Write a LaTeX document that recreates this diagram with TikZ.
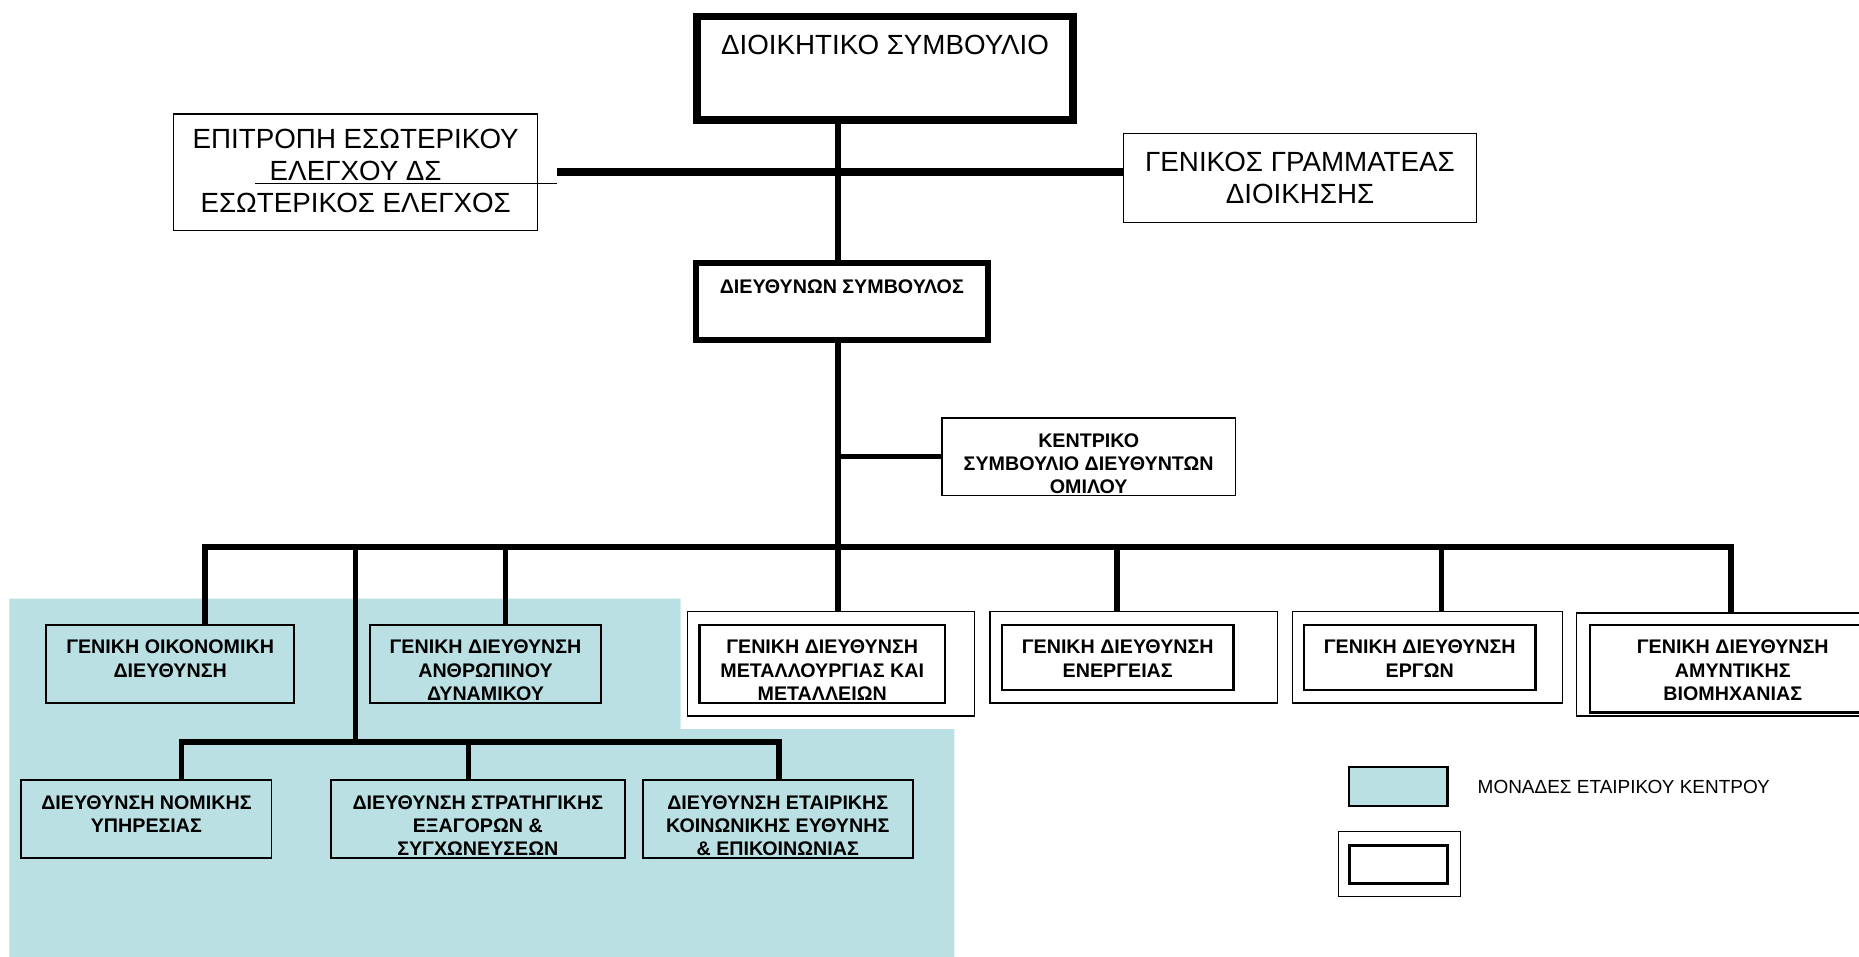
\documentclass[tikz,border=0pt]{standalone}
\usepackage{fontspec}
\setmainfont{Liberation Sans}
\usetikzlibrary{fit,calc}
\definecolor{unitblue}{RGB}{186,224,227}
\tikzset{
  box/.style={draw, inner sep=0pt, outer sep=0pt, line width=0.6pt},
  bluebox/.style={box, fill=unitblue, line width=0.8pt},
  inbox/.style={box, line width=1.1pt},
  conn/.style={line width=2.3pt, line join=miter},
  ntxt/.style={inner sep=0pt, align=center, anchor=north, font=\fontsize{11.7}{13.5}\selectfont},
  btxt/.style={inner sep=0pt, align=center, anchor=north, font=\fontsize{8.3}{9.8}\selectfont\bfseries},
}

\begin{document}
\begin{tikzpicture}[x=0.5pt,y=-0.5pt]
  \useasboundingbox (0,0) rectangle (1568,807);
  \clip (0,0) rectangle (1568,807);

  % corporate centre area
  \fill[unitblue] (8,505) -- (574,505) -- (574,615) -- (805,615) -- (805,807) -- (8,807) -- cycle;

  % board and top level
  \node[box, line width=3.2pt, fit={(588,14) (905,101)}] (db) {};
  \node[ntxt] (db-t) at ([yshift=-7.75pt]db.north) {ΔΙΟΙΚΗΤΙΚΟ ΣΥΜΒΟΥΛΙΟ};
  \node[box, fit={(146.5,96) (453.5,194.5)}] (ep) {};
  \node[ntxt] (ep-t) at ([yshift=-6.4pt]ep.north) {ΕΠΙΤΡΟΠΗ ΕΣΩΤΕΡΙΚΟΥ\\ΕΛΕΓΧΟΥ ΔΣ\\ΕΣΩΤΕΡΙΚΟΣ ΕΛΕΓΧΟΣ};
  \node[box, fit={(947.5,112.5) (1245.5,187.5)}] (gg) {};
  \node[ntxt] (gg-t) at ([yshift=-7.5pt]gg.north) {ΓΕΝΙΚΟΣ ΓΡΑΜΜΑΤΕΑΣ\\ΔΙΟΙΚΗΣΗΣ};
  \node[box, line width=2.5pt, fit={(587,221.5) (833,286.5)}] (ds) {};
  \node[btxt] (ds-t) at ([yshift=-7pt]ds.north) {ΔΙΕΥΘΥΝΩΝ ΣΥΜΒΟΥΛΟΣ};
  \node[box, fit={(794.5,352.5) (1042,418)}] (ks) {};
  \node[btxt] (ks-t) at ([yshift=-6.3pt]ks.north) {ΚΕΝΤΡΙΚΟ\\ΣΥΜΒΟΥΛΙΟ ΔΙΕΥΘΥΝΤΩΝ\\ΟΜΙΛΟΥ};

  % corporate centre units
  \node[bluebox, fit={(39,527) (248,593)}] (oik) {};
  \node[btxt] (oik-t) at ([yshift=-6.3pt]oik.north) {ΓΕΝΙΚΗ ΟΙΚΟΝΟΜΙΚΗ\\ΔΙΕΥΘΥΝΣΗ};
  \node[bluebox, fit={(312,527) (507,593)}] (anth) {};
  \node[btxt] (anth-t) at ([yshift=-6.3pt]anth.north) {ΓΕΝΙΚΗ ΔΙΕΥΘΥΝΣΗ\\ΑΝΘΡΩΠΙΝΟΥ\\ΔΥΝΑΜΙΚΟΥ};
  \node[bluebox, fit={(18,658) (229,724)}] (nom) {};
  \node[btxt] (nom-t) at ([yshift=-6.3pt]nom.north) {ΔΙΕΥΘΥΝΣΗ ΝΟΜΙΚΗΣ\\ΥΠΗΡΕΣΙΑΣ};
  \node[bluebox, fit={(279,658) (527,724)}] (str) {};
  \node[btxt] (str-t) at ([yshift=-6.3pt]str.north) {ΔΙΕΥΘΥΝΣΗ ΣΤΡΑΤΗΓΙΚΗΣ\\ΕΞΑΓΟΡΩΝ \&\\ΣΥΓΧΩΝΕΥΣΕΩΝ};
  \node[bluebox, fit={(542,658) (770,724)}] (etk) {};
  \node[btxt] (etk-t) at ([yshift=-6.3pt]etk.north) {ΔΙΕΥΘΥΝΣΗ ΕΤΑΙΡΙΚΗΣ\\ΚΟΙΝΩΝΙΚΗΣ ΕΥΘΥΝΗΣ\\\& ΕΠΙΚΟΙΝΩΝΙΑΣ};

  % business units (double boxes)
  \node[box, fit={(580,516) (822,604)}] (met) {};
  \node[inbox, fit={(590,527) (797,593)}] (met-i) {};
  \node[btxt] (met-t) at ([yshift=-6.3pt]met-i.north) {ΓΕΝΙΚΗ ΔΙΕΥΘΥΝΣΗ\\ΜΕΤΑΛΛΟΥΡΓΙΑΣ ΚΑΙ\\ΜΕΤΑΛΛΕΙΩΝ};
  \node[box, fit={(835,516) (1077.5,593)}] (ener) {};
  \node[inbox, fit={(845,527) (1040.5,582)}] (ener-i) {};
  \node[btxt] (ener-t) at ([yshift=-6.3pt]ener-i.north) {ΓΕΝΙΚΗ ΔΙΕΥΘΥΝΣΗ\\ΕΝΕΡΓΕΙΑΣ};
  \node[box, fit={(1090,516) (1318,593)}] (erg) {};
  \node[inbox, fit={(1100,527) (1295,582)}] (erg-i) {};
  \node[btxt] (erg-t) at ([yshift=-6.3pt]erg-i.north) {ΓΕΝΙΚΗ ΔΙΕΥΘΥΝΣΗ\\ΕΡΓΩΝ};
  \node[box, fit={(1329.5,517) (1590,604)}] (amyn) {};
  \node[inbox, fit={(1341,527) (1582,601)}] (amyn-i) {};
  \node[btxt] (amyn-t) at ([yshift=-6.3pt]amyn-i.north) {ΓΕΝΙΚΗ ΔΙΕΥΘΥΝΣΗ\\ΑΜΥΝΤΙΚΗΣ\\ΒΙΟΜΗΧΑΝΙΑΣ};

  % legend
  \node[bluebox, line width=1pt, fit={(1138,647) (1221,680)}] (lg1) {};
  \node[inner sep=0pt, anchor=north west, font=\fontsize{8}{9.6}\selectfont] (lg1-t) at (1246,658) {ΜΟΝΑΔΕΣ ΕΤΑΙΡΙΚΟΥ ΚΕΝΤΡΟΥ};
  \node[box, fit={(1129,701.5) (1232,756)}] (lg2) {};
  \node[inbox, fit={(1138,713) (1221,745)}] (lg2-i) {};

  % connectors
  \coordinate (sp) at (707,0);
  \draw[conn] (sp |- db.south) -- (sp |- ds.north);
  \coordinate (ep-r) at (469.5,145);
  \draw[conn, line width=3.2pt] (ep-r) -- (ep-r -| gg.west);
  \coordinate (ep-u) at (215,155);
  \draw[line width=0.6pt] (ep-u) -- (ep-u -| ep-r);
  \draw[conn] (sp |- ks.west) -- (ks.west);

  \foreach \x/\n in {173/oik, 426.5/anth, 707/met, 942/ener, 1216/erg, 1460/amyn}
    \coordinate (b-\n) at (\x,461.5);
  \draw[conn] (sp |- ds.south) -- (b-met);
  \draw[conn] (b-oik |- oik.north) -- (b-oik) -- (b-amyn) -- (b-amyn |- amyn.north);
  \foreach \n in {anth, met, ener, erg}
    \draw[conn] (b-\n) -- (b-\n |- \n.north);

  \coordinate (b-low) at (300,461.5);
  \coordinate (l-low) at (300,626);
  \foreach \x/\n in {153/nom, 395/str, 657/etk}
    \coordinate (l-\n) at (\x,626);
  \draw[conn] (b-low) -- (l-low);
  \draw[conn] (l-nom |- nom.north) -- (l-nom) -- (l-etk) -- (l-etk |- etk.north);
  \draw[conn] (l-str) -- (l-str |- str.north);
\end{tikzpicture}
\end{document}
